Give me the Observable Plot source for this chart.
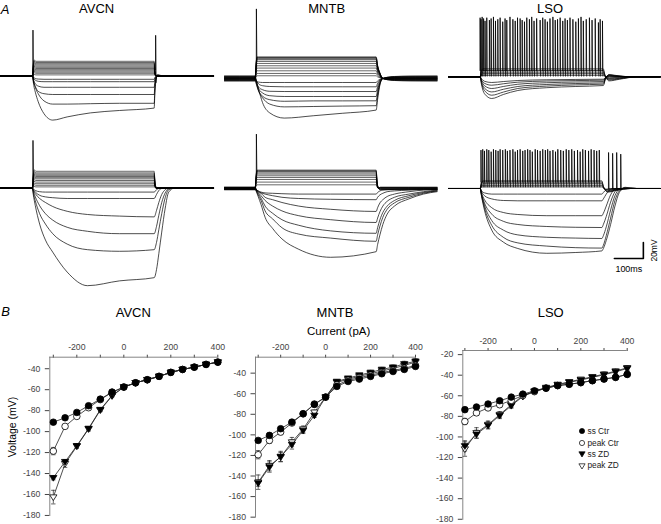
<!DOCTYPE html>
<html><head><meta charset="utf-8">
<script src="https://cdn.jsdelivr.net/npm/d3@7"></script>
<script src="https://cdn.jsdelivr.net/npm/@observablehq/plot@0.6"></script>
<style>
body{margin:0;background:#fff;}
#fig{position:relative;width:661px;height:524px;overflow:hidden;background:#fff;font-family:"Liberation Sans",Arial,sans-serif;color:#000;}
#fig svg{position:absolute;}
.lbl{position:absolute;white-space:nowrap;line-height:1;}
</style></head><body><div id="fig"></div>
<script>
// ================= DATA =================
// ---- Panel B: I-V relations ----
const currents = [-300,-250,-200,-150,-100,-50,0,50,100,150,200,250,300,350,400];
const xTickValues = [-300,-200,-100,0,100,200,300,400];
const xTickLabels = [-200,0,200,400];
const legendLabels = ["ss Ctr","peak Ctr","ss ZD","peak ZD"];

const avcnSsCtr   = [-91,-86.8,-81.7,-75.3,-69,-62.3,-57.5,-53.4,-50.5,-47.3,-43.5,-40.7,-38.5,-35.9,-33.7];
const avcnPeakCtr = [-118.6,-95,-85.5,-77.2,-69.5,-62.5,-57.5,-53.4,-50.5,-47.3,-43.5,-40.7,-38.5,-35.9,-33.7];
const avcnSsZD    = [-144,-128.7,-113.5,-97,-79,-65.5,-57.5,-53.4,-50.5,-47.3,-43.5,-40.7,-38.5,-35.9,-33.7];
const avcnPeakZD  = [-162.5,-130.6,-114,-97.5,-79.5,-66,-57.5,-53.4,-50.5,-47.3,-43.5,-40.7,-38.5,-35.9,-33.7];
const avcnSsCtrErr   = [1.5,1.5,1.5,1.5,1.2,1,1,1,1,1,1,1,1,1,1];
const avcnPeakCtrErr = [3.5,2,1.5,1.5,1.2,1,1,1,1,1,1,1,1,1,1];
const avcnSsZDErr    = [2,2,1.5,1.5,1.5,1,1,1,1,1,1,1,1,1,1];
const avcnPeakZDErr  = [6.5,3.5,2,2,1.5,1,1,1,1,1,1,1,1,1,1];

const mntbSsCtr   = [-105.4,-100.5,-94,-87.6,-79.5,-70.4,-63.3,-52.9,-48.1,-45.8,-43.2,-40.6,-38.4,-36.4,-33.5];
const mntbPeakCtr = [-119.3,-105.4,-97.3,-88.5,-79.5,-70,-63.3,-51.5,-47,-44.5,-42,-39.5,-37.3,-35.3,-32.5];
const mntbSsZD    = [-146.9,-131.3,-121,-109.3,-95.7,-81.1,-63.3,-48.1,-44.9,-41.9,-39.3,-36.4,-34.2,-31,-28.4];
const mntbPeakZD  = [-146,-130,-121.6,-107,-94.4,-78,-63.3,-49,-46,-43,-40.6,-38,-35.4,-32.5,-29.3];
const mntbSsCtrErr   = [2,2,2,2,1.5,1.5,1,1.5,1.5,1.5,1.5,1.5,1.5,1.5,1.5];
const mntbPeakCtrErr = [4,3,2.5,2,1.5,1.5,1,1.5,1.5,1.5,1.5,1.5,1.5,1.5,1.5];
const mntbSsZDErr    = [3,5,5,4.5,3,2,1,1.5,1.5,1.5,2,2,2,2.5,2.5];
const mntbPeakZDErr  = [7,5,4.5,4.5,3,2,1,1.5,1.5,1.5,2,2,2,2.5,2.5];

const lsoSsCtr   = [-73.5,-70.9,-68,-64.8,-61.3,-58.4,-55.2,-52.6,-50.1,-48.8,-47.2,-45.3,-43.7,-42.1,-39.2];
const lsoPeakCtr = [-85,-76.6,-71.8,-68.7,-64.5,-59.7,-56,-52.6,-50.1,-48.8,-47.2,-45.3,-43.7,-42.1,-39.2];
const lsoSsZD    = [-108.7,-97.4,-88.8,-79.2,-69.6,-60.7,-55.9,-52.6,-49.5,-46.9,-44.7,-42.1,-39.6,-36.7,-33.5];
const lsoPeakZD  = [-111.8,-96,-88,-78.3,-68.7,-60,-55.5,-52,-49,-46.4,-44,-41.5,-39,-36,-32.8];
const lsoSsCtrErr   = [1.5,1.5,1.5,1.5,1.5,1,1,1,1,1,1,1,1,1,1.5];
const lsoPeakCtrErr = [3,2,2,2,1.5,1,1,1,1,1,1,1,1,1,1.5];
const lsoSsZDErr    = [5,4,3.5,3,2.5,1.5,1,1,1,1.5,1.5,1.5,2,2,2];
const lsoPeakZDErr  = [7,5,3.5,3,2.5,1.5,1,1,1,1.5,1.5,1.5,2,2,2];

// ---- Panel A: voltage traces (ms from step onset, mV from rest) ----
const avcnCtrT = [-110,0,2,5,10,20,40,70,120,200,300,420,422,426,432,445,470,625];
const avcnCtrHyper = [
 [0,0,-1,-2,-3,-3.7,-4,-4,-4,-4,-4,-4,-2,-0.5,0,0,0,0],
 [0,0,-1.5,-3.5,-5,-6.5,-7,-7,-7,-7,-7,-7,-4,-1,0,0,0,0],
 [0,0,-2.5,-6,-9.5,-12.5,-14,-14,-14,-14,-14,-14,-8,-2,0,0,0,0],
 [0,0,-3,-8,-13,-19,-22,-23,-23,-23,-23,-23,-13,-3,0.5,0,0,0],
 [0,0,-3,-8,-14,-22,-31,-35,-35,-34.5,-34,-34,-20,-5,1,0,0,0],
 [0,0,-4,-12,-20,-32,-47,-55,-51,-46,-43,-40,-24,-6,2,0.5,0,0]
];
const avcnCtrDepT = [-110,0,3,6,12,420,423,428,625];
const avcnCtrDep = [
 [0,0,1.2,2,1.5,1.5,0.5,0,0],
 [0,0,2.8,4.2,3.5,3.5,1,0,0],
 [0,0,4,5.8,5,5,1.5,0,0],
 [0,0,5.2,7.4,6.5,6.5,2,0,0],
 [0,0,6.4,9,8,8,2.4,0,0],
 [0,0,7.6,10.6,9.5,9.5,2.8,0,0],
 [0,0,8.8,12.2,11,11,3.3,0,0],
 [0,0,10,13.8,12.5,12.5,3.8,0,0],
 [0,0,11.2,15.4,14,14,4.2,0,0],
 [0,0,12.4,17,15.5,15.5,4.6,0,0],
 [0,0,13.6,18.6,17,17,5,0,0],
 [0,0,14.8,20.2,18.5,18.5,5.5,0,0]
];
const avcnCtrSpikes = {t:[2,425], peak:[57.5,51], base:8, after:-8};

const avcnZdT = [-110,0,3,10,25,45,70,120,190,300,420,428,436,446,458,470,490,625];
const avcnZdHyper = [
 [0,0,-1,-3,-4.5,-5,-5,-5,-5,-5,-5,-2,-0.5,0,0,0,0,0],
 [0,0,-2,-5,-9,-11,-12,-13,-13,-13,-13,-8,-3,-0.5,0,0,0,0],
 [0,0,-3,-7,-13,-18,-23,-29,-33,-35,-36,-28,-18,-8,-2,0,0,0],
 [0,0,-4,-11,-22,-32,-40,-49,-54,-57,-57,-48,-34,-18,-6,-1,0,0],
 [0,0,-6,-16,-32,-45,-57,-70,-77,-79,-77,-68,-52,-32,-12,-2,0,0],
 [0,0,-8,-22,-45,-65,-80,-105,-122,-116,-112,-102,-82,-55,-25,-5,0,0]
];
const avcnZdDepT = [-110,0,3,6,12,420,423,428,625];
const avcnZdDep = [
 [0,0,1.2,2,1.5,1.5,0.5,0,0],
 [0,0,2.8,4.2,3.5,3.5,1,0,0],
 [0,0,4.4,6.3,5.5,5.5,1.6,0,0],
 [0,0,6,8.4,7.5,7.5,2.2,0,0],
 [0,0,7.6,10.5,9.5,9.5,2.8,0,0],
 [0,0,9.2,12.6,11.5,11.5,3.4,0,0],
 [0,0,10.4,14.2,13,13,3.9,0,0],
 [0,0,11.6,15.8,14.5,14.5,4.3,0,0],
 [0,0,12.8,17.4,16,16,4.8,0,0],
 [0,0,14,19,17.5,17.5,5.2,0,0],
 [0,0,15.2,20.6,19,19,5.7,0,0],
 [0,0,16.8,22.8,21,21,6.3,0,0]
];
const avcnZdSpikes = {t:[2], peak:[59.6], base:10, after:12};

const mntbCtrT = [-106,0,2,6,12,25,50,100,200,300,417,422,430,440,455,480,530,627];
const mntbCtrHyper = [
 [-2,-2,-3,-4,-4.5,-5,-5,-5,-5,-5,-5,-3,-1,0,-1,-1.5,-2,-2],
 [1,1,-1,-4,-7,-9,-10,-10.4,-10.4,-10.4,-10.4,-6,-2,0,0.5,1,1,1],
 [-1,-1,-3,-7,-11,-14,-16,-16.3,-16.3,-16.3,-16.3,-10,-3,0,-0.5,-1,-1,-1],
 [2,2,-1,-7,-13,-18,-21.5,-22.5,-22.5,-22.5,-22.5,-14,-5,0,1,1.5,2,2],
 [-3,-3,-5,-10,-16,-22,-26.5,-28.5,-28,-28,-27.9,-18,-6,0,-1.5,-2.5,-3,-3],
 [0,0,-3,-9,-16,-24,-32,-35.5,-35,-34.5,-34,-22,-7,0,0,0,0,0],
 [3,3,0,-6,-14,-30,-43,-49.5,-46.6,-43.5,-39.5,-26,-8,0,1.5,2.5,3,3]
];
const mntbCtrDepT = [-106,0,2,6,12,417,422,430,440,455,480,627];
const mntbCtrDep = [
 [1,1,2,3.4,3.4,3.4,2,0.9,0,0.5,0.8,1],
 [-1,-1,2.5,6.3,6.3,6.3,3.8,1.6,0,-0.5,-0.8,-1],
 [2,2,5.5,9.6,9.6,9.6,5.8,2.4,0,1,1.6,2],
 [-2,-2,5,13,13,13,7.8,3.2,0,-1,-1.6,-2],
 [0,0,7.5,15.9,15.9,15.9,9.5,4,0,0,0,0],
 [3,3,10,18.8,18.8,18.8,11.3,4.7,0,1.5,2.4,3],
 [-3,-3,8,21.3,21.3,21.3,12.8,5.3,0,-1.5,-2.4,-3],
 [1,1,11,23.4,23.4,23.4,14,5.8,0,0.5,0.8,1],
 [-1,-1,11,24.5,24.5,24.5,14.7,6.1,0,-0.5,-0.8,-1],
 [2,2,13,25.5,25.5,25.5,15.3,6.4,0,1,1.6,2],
 [0,0,13,26.3,26.3,26.3,15.8,6.6,0,0,0,0],
 [-2,-2,12,27,27,27,16.2,6.8,0,-1,-1.6,-2]
];
const mntbCtrSpikes = {t:[4], peak:[87], base:15, after:22};

const mntbZdT = [-106,0,3,10,20,34,60,92,150,260,417,422,430,440,455,480,530,580,627];
const mntbZdHyper = [
 [0.5,0.5,-1,-3,-4.5,-5.5,-6,-6.5,-7,-7,-7,-5,-3,-2,-1.5,-1,-0.5,0,0],
 [-1,-1,-2,-4,-5.5,-7,-9,-11,-12.5,-13.5,-14,-11,-8,-6,-4,-3,-2,-1,-1],
 [1,1,-1,-3,-6,-11,-14,-17.5,-22,-26,-28.7,-24,-18,-14,-10,-7,-4,-2,-1],
 [-0.5,-0.5,-2,-5,-9,-15,-22,-28,-34,-39,-42.5,-37,-29,-22,-16,-11,-7,-4,-2],
 [1.5,1.5,-1,-6,-12,-22,-31,-39,-46,-53,-56,-49,-39,-30,-22,-15,-9,-5,-3],
 [-1.5,-1.5,-3,-8,-15,-28,-38,-49,-57,-62,-66,-58,-47,-36,-26,-18,-11,-6,-3],
 [0,0,-3,-10,-20,-36,-50,-63,-76,-86,-79,-70,-58,-45,-32,-22,-13,-7,-4]
];
const mntbZdDepT = [-106,0,2,6,12,417,420,425,432,627];
const mntbZdDep = [
 [1,1,2.8,4.6,4.6,4.6,1.8,0.5,1,1],
 [-1,-1,3.5,8,8,8,3.2,0,-1,-1],
 [1.5,1.5,6.4,11.3,11.3,11.3,4.5,0.8,1.5,1.5],
 [-1.5,-1.5,6,13.8,13.8,13.8,5.5,0,-1.5,-1.5],
 [0.5,0.5,8,15.9,15.9,15.9,6.4,0.5,0.5,0.5],
 [-0.5,-0.5,9,18,18,18,7.2,0,-0.5,-0.5],
 [1,1,10,19.6,19.6,19.6,7.8,0.5,1,1],
 [-1,-1,10,21.3,21.3,21.3,8.5,0,-1,-1],
 [0,0,11,22.2,22.2,22.2,8.9,0,0,0],
 [1.5,1.5,12,23,23,23,9.2,0.8,1.5,1.5]
];
const mntbZdSpikes = {t:[4], peak:[68], base:12, after:18};

const lsoCtrT = [-109,0,5,15,40,80,130,230,330,425,432,445,465,500,540,621];
const lsoCtrHyper = [
 [0,0,-10,-21,-27,-22,-17,-13.5,-12,-10.8,-3,3,2,0.5,0,0],
 [0,0,-8,-17,-22.9,-19,-14.5,-11.5,-10,-9.1,-2.5,2.5,1.5,0.5,0,0],
 [0,0,-7,-14,-18.8,-15.5,-12,-9.5,-8.3,-7.5,-2,2,1.2,0.3,0,0],
 [0,0,-5,-11,-14.5,-12,-9.2,-7.3,-6.4,-5.8,-1.5,1.5,1,0.3,0,0],
 [0,0,-4,-8,-10.4,-8.6,-6.6,-5.2,-4.6,-4.1,-1,1,0.7,0.2,0,0],
 [0,0,-2.5,-5.5,-7,-5.8,-4.5,-3.6,-3.2,-2.9,-0.8,0.6,0.4,0,0,0]
];
const lsoCtrDepT = [-109,0,4,10,425,430,445,480,540,621];
const lsoCtrDep = [
 [0,0,1.5,2,2,0.6,-1,-0.6,0,0],
 [0,0,3,4,4,1.2,-2,-1.2,0,0],
 [0,0,4.5,6,6,1.8,-3,-1.8,0,0],
 [0,0,6,8,8,2.4,-4,-2.4,0,0],
 [0,0,7.5,10,10,3,-5,-3,0,0]
];
const lsoCtrSpikes = {
 t:[0,3,7,12,17,23,32,38,46,53,61,69,78,86,92,103,113,121,129,138,145,153,161,170,178,186,195,207,216,224,232,241,251,259,267,276,285,293,301,310,320,330,339,348,356,366,377,386,397,408,414,422],
 peak:[74,72,75,73,70,74,71,73,75,70,72,74,69,73,71,75,72,70,74,73,71,69,74,72,75,70,73,71,74,72,69,73,75,71,72,74,70,73,71,74,72,69,73,75,70,72,74,71,73,68,72,70],
 base:8, after:1
};

const lsoZdT = [-109,0,5,15,40,80,130,230,330,420,425,435,450,465,480,500,540,621];
const lsoZdHyper = [
 [0,0,-3,-5.5,-7,-7,-7,-7,-7,-7,-5,-1.5,0,0,0,0,0,0],
 [0,0,-4,-9,-13,-15,-15.4,-15.4,-15.4,-15.4,-13,-7,-1,0,0,0,0,0],
 [0,0,-6,-14,-24,-30,-32.5,-34,-34,-34,-31,-22,-8,-1,0,0,0,0],
 [0,0,-7,-18,-32,-41,-45,-47.5,-48.5,-48.8,-45,-35,-17,-4,0,0,0,0],
 [0,0,-8,-21,-40,-52,-58,-61,-62,-62.5,-59,-48,-27,-9,-1,0.5,0,0],
 [0,0,-9,-24,-46,-61,-68,-72,-74,-74.5,-71,-59,-37,-15,-3,1,0,0],
 [0,0,-10,-27,-52,-67,-75,-81,-80,-78,-75,-65,-45,-22,-5,1.5,0,0]
];
const lsoZdDepT = [-109,0,4,10,420,425,440,470,520,621];
const lsoZdDep = [
 [0,0,1.5,2,2,0.6,-1,-0.5,0,0],
 [0,0,3,4,4,1.2,-2,-1,0,0],
 [0,0,4.5,6,6,1.8,-3,-1.5,0,0],
 [0,0,6,8,8,2.4,-4,-2,0,0],
 [0,0,7,9.5,9.5,2.8,-4.5,-2.4,0,0]
];
const lsoZdSpikes = {
 t:[3,9,15,23,30,38,46,54,62,69,78,87,94,103,113,121,129,138,147,155,164,172,180,190,198,207,216,225,233,241,251,260,268,278,287,297,306,316,325,336,345,354,363,374,383,393,402,411],
 peak:[48,49,47,49,48,46,49,48,47,49,48,49,47,48,49,46,48,49,47,48,49,48,46,49,48,47,49,48,49,47,48,46,49,48,47,49,48,49,47,48,46,49,48,47,49,48,47,48],
 base:8, after:2
};
const lsoZdRebound = {t:[443,457,471,485], peak:[45,44,45,43], base:0, after:-2};
const scaleBar = {t:563, v:-87.5, ms:100, mV:20};

// ================= DRAWING =================
const fig = document.getElementById("fig");
const FONT = '"Liberation Sans", Arial, sans-serif';
const PX_MS = 0.29, PX_MV = 0.8;

function addText(txt, x, y, size, opts = {}) {
  const d = document.createElement("div");
  d.className = "lbl";
  d.textContent = txt;
  d.style.left = x + "px"; d.style.top = y + "px";
  d.style.fontSize = size + "px";
  if (opts.italic) d.style.fontStyle = "italic";
  d.style.transform = "translate(-50%,-50%)" + (opts.rotate ? ` rotate(${opts.rotate}deg)` : "");
  fig.append(d);
}

function tracesToPoints(T, traces, prefix) {
  const pts = [];
  traces.forEach((tr, i) => tr.forEach((v, j) => pts.push({t: T[j], v, id: prefix + i})));
  return pts;
}
function spikesToPoints(sp, prefix) {
  const pts = [];
  sp.t.forEach((t, i) => {
    pts.push({t: t - 0.4, v: sp.base, id: prefix + i},
             {t: t, v: sp.peak[i], id: prefix + i},
             {t: t + 1.6, v: sp.after, id: prefix + i});
  });
  return pts;
}

function tracePanel({ox, by, t0, t1, vmin, vmax, groups, spikes, extra = []}) {
  const width = (t1 - t0) * PX_MS, height = (vmax - vmin) * PX_MV;
  const marks = [];
  groups.forEach(([T, tr, sw], g) => marks.push(
    Plot.line(tracesToPoints(T, tr, "g" + g + "_"), {x: "t", y: "v", z: "id", curve: "monotone-x", stroke: "black", strokeWidth: sw})));
  spikes.forEach((sp, k) => marks.push(
    Plot.line(spikesToPoints(sp, "s" + k + "_"), {x: "t", y: "v", z: "id", stroke: "black", strokeWidth: 0.8})));
  const svg = Plot.plot({
    width, height, marginTop: 0, marginRight: 0, marginBottom: 0, marginLeft: 0,
    x: {domain: [t0, t1], axis: null}, y: {domain: [vmin, vmax], axis: null},
    style: {background: "none", overflow: "visible", maxWidth: "none", fontFamily: FONT},
    marks: [...marks, ...extra]
  });
  svg.style.left = (ox + t0 * PX_MS) + "px";
  svg.style.top = (by - vmax * PX_MV) + "px";
  fig.append(svg);
}

tracePanel({ox: 31.7, by: 76, t0: -110, t1: 625, vmin: -60, vmax: 62,
  groups: [[avcnCtrT, avcnCtrHyper, 0.7], [avcnCtrDepT, avcnCtrDep, 0.6]], spikes: [avcnCtrSpikes]});
tracePanel({ox: 31.7, by: 187.7, t0: -110, t1: 625, vmin: -125, vmax: 62,
  groups: [[avcnZdT, avcnZdHyper, 0.7], [avcnZdDepT, avcnZdDep, 0.6]], spikes: [avcnZdSpikes]});
tracePanel({ox: 255, by: 77.7, t0: -106, t1: 627, vmin: -55, vmax: 90,
  groups: [[mntbCtrT, mntbCtrHyper, 0.7], [mntbCtrDepT, mntbCtrDep, 0.6]], spikes: [mntbCtrSpikes]});
tracePanel({ox: 255, by: 187.7, t0: -106, t1: 627, vmin: -90, vmax: 70,
  groups: [[mntbZdT, mntbZdHyper, 0.7], [mntbZdDepT, mntbZdDep, 0.6]], spikes: [mntbZdSpikes]});
tracePanel({ox: 480, by: 76.7, t0: -109, t1: 621, vmin: -30, vmax: 78,
  groups: [[lsoCtrT, lsoCtrHyper, 0.7], [lsoCtrDepT, lsoCtrDep, 0.7]], spikes: [lsoCtrSpikes]});
const sb = scaleBar;
tracePanel({ox: 480, by: 187.7, t0: -109, t1: 621, vmin: -105, vmax: 55,
  groups: [[lsoZdT, lsoZdHyper, 0.7], [lsoZdDepT, lsoZdDep, 0.7]], spikes: [lsoZdSpikes, lsoZdRebound],
  extra: [
    Plot.line([{t: sb.t - sb.ms, v: sb.v}, {t: sb.t, v: sb.v}, {t: sb.t, v: sb.v + sb.mV}], {x: "t", y: "v", stroke: "black", strokeWidth: 1.6}),
    Plot.text([{t: sb.t - sb.ms / 2, v: sb.v, s: sb.ms + "ms"}], {x: "t", y: "v", text: "s", dy: 11, fontSize: 9, fill: "black"}),
    Plot.text([{t: sb.t, v: sb.v + sb.mV / 2, s: sb.mV + "mV"}], {x: "t", y: "v", text: "s", dx: 11, rotate: -90, fontSize: 8.5, fill: "black"})
  ]});

// ---- I-V panels ----
const triDown = {draw(ctx, size) { const s = Math.sqrt(size / Math.PI) * 1.1;
  ctx.moveTo(-s, -s * 0.62); ctx.lineTo(s, -s * 0.62); ctx.lineTo(0, s * 0.95); ctx.closePath(); }};
const hCap = {draw(ctx, size) { const s = Math.sqrt(size / Math.PI); ctx.moveTo(-s, 0); ctx.lineTo(s, 0); }};

function ivPanel({left, top, width, height, mt, mb, ml, mr, xDomain, yDomain, yTicks, s}) {
  const rows = (vals, errs) => currents.map((c, i) => ({c, v: vals[i], e: errs[i]}));
  const series = [
    {data: rows(s.peakZD, s.peakZDErr), symbol: triDown, fill: "white"},
    {data: rows(s.ssZD, s.ssZDErr), symbol: triDown, fill: "black"},
    {data: rows(s.peakCtr, s.peakCtrErr), symbol: "circle", fill: "white"},
    {data: rows(s.ssCtr, s.ssCtrErr), symbol: "circle", fill: "black"}
  ];
  const marks = [
    Plot.ruleY([yDomain[1]], {stroke: "#777", strokeWidth: 0.9}),
    Plot.ruleX([xDomain[0]], {stroke: "#777", strokeWidth: 0.9}),
    ...series.map(se => Plot.line(se.data, {x: "c", y: "v", stroke: "#222", strokeWidth: 0.8})),
    ...series.map(se => Plot.ruleX(se.data, {x: "c", y1: d => d.v - d.e, y2: d => d.v + d.e, stroke: "#222", strokeWidth: 0.7})),
    ...series.map(se => Plot.dot(se.data, {x: "c", y: d => d.v + d.e, symbol: hCap, r: 2.2, fill: "none", stroke: "#222", strokeWidth: 0.7})),
    ...series.map(se => Plot.dot(se.data, {x: "c", y: d => d.v - d.e, symbol: hCap, r: 2.2, fill: "none", stroke: "#222", strokeWidth: 0.7})),
    ...series.map(se => Plot.dot(se.data, {x: "c", y: "v", symbol: se.symbol, r: 3.3, fill: se.fill, stroke: "black", strokeWidth: 0.8}))
  ];
  const svg = Plot.plot({
    width, height, marginTop: mt, marginBottom: mb, marginLeft: ml, marginRight: mr,
    x: {domain: xDomain, axis: "top", ticks: xTickValues, tickFormat: d => xTickLabels.includes(d) ? String(d) : "",
        tickSize: 3, tickPadding: 4, label: null, line: false},
    y: {domain: yDomain, axis: "left", ticks: yTicks, tickFormat: d => String(d), tickSize: 4.5, tickPadding: 5, label: null},
    style: {background: "none", overflow: "visible", maxWidth: "none", fontFamily: FONT, fontSize: "8.7px", color: "#444"},
    marks
  });
  svg.style.left = left + "px"; svg.style.top = top + "px";
  fig.append(svg);
}

ivPanel({left: 0, top: 290, width: 225, height: 234, mt: 66.7, mb: 8, ml: 49.3, mr: 7.7,
  xDomain: [-315, 400], yDomain: [-181, -29], yTicks: d3.range(-180, -39, 20),
  s: {ssCtr: avcnSsCtr, peakCtr: avcnPeakCtr, ssZD: avcnSsZD, peakZD: avcnPeakZD,
      ssCtrErr: avcnSsCtrErr, peakCtrErr: avcnPeakCtrErr, ssZDErr: avcnSsZDErr, peakZDErr: avcnPeakZDErr}});
ivPanel({left: 220, top: 290, width: 215, height: 234, mt: 66.7, mb: 6.3, ml: 35, mr: 20,
  xDomain: [-312, 400], yDomain: [-181, -24.5], yTicks: d3.range(-180, -39, 20),
  s: {ssCtr: mntbSsCtr, peakCtr: mntbPeakCtr, ssZD: mntbSsZD, peakZD: mntbPeakZD,
      ssCtrErr: mntbSsCtrErr, peakCtrErr: mntbPeakCtrErr, ssZDErr: mntbSsZDErr, peakZDErr: mntbPeakZDErr}});
ivPanel({left: 430, top: 290, width: 231, height: 234, mt: 60, mb: 4.2, ml: 32.3, mr: 34.3,
  xDomain: [-309, 400], yDomain: [-181, -16], yTicks: d3.range(-180, -19, 20),
  s: {ssCtr: lsoSsCtr, peakCtr: lsoPeakCtr, ssZD: lsoSsZD, peakZD: lsoPeakZD,
      ssCtrErr: lsoSsCtrErr, peakCtrErr: lsoPeakCtrErr, ssZDErr: lsoSsZDErr, peakZDErr: lsoPeakZDErr}});

// ---- Legend ----
const legendSyms = [["circle","black"],["circle","white"],["tri","black"],["tri","white"]];
legendLabels.forEach((lab, i) => {
  const y = [431, 443.3, 454.3, 465.7][i];
  const [sym, fill] = legendSyms[i];
  const ns = "http://www.w3.org/2000/svg";
  const svg = document.createElementNS(ns, "svg");
  svg.setAttribute("width", 8); svg.setAttribute("height", 8);
  svg.style.left = (582 - 4) + "px"; svg.style.top = (y - 4) + "px";
  const shape = document.createElementNS(ns, sym === "circle" ? "circle" : "path");
  if (sym === "circle") { shape.setAttribute("cx", 4); shape.setAttribute("cy", 4); shape.setAttribute("r", 2.6); }
  else shape.setAttribute("d", "M0.9,1.8L7.1,1.8L4,7Z");
  shape.setAttribute("fill", fill); shape.setAttribute("stroke", "black"); shape.setAttribute("stroke-width", 0.7);
  svg.append(shape); fig.append(svg);
  const d = document.createElement("div");
  d.className = "lbl"; d.textContent = lab;
  d.style.left = "587.5px"; d.style.top = (y - 4.3) + "px"; d.style.fontSize = "8.3px"; d.style.color = "#222";
  fig.append(d);
});

// ---- Titles and labels ----
addText("A", 5, 8.5, 13, {italic: true});
addText("AVCN", 96.7, 8.3, 13);
addText("MNTB", 326.7, 8.3, 13);
addText("LSO", 550, 8.3, 13);
addText("B", 5.5, 311, 13, {italic: true});
addText("AVCN", 133.3, 311.7, 13);
addText("MNTB", 335, 311.7, 13);
addText("LSO", 550.7, 311.7, 13);
addText("Current (pA)", 338.7, 331.7, 11.5);
addText("Voltage (mV)", 11.7, 427.3, 10.5, {rotate: -90});
</script></body></html>
